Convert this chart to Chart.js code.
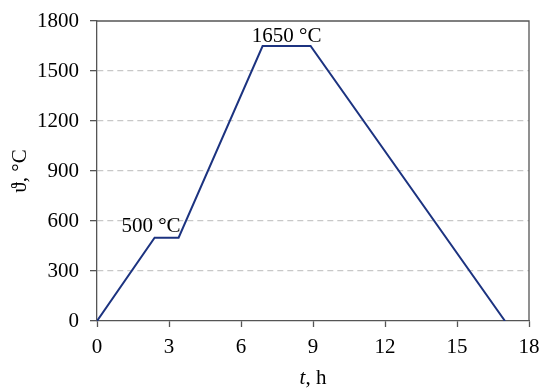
<!DOCTYPE html>
<html>
<head>
<meta charset="utf-8">
<script src="https://cdn.jsdelivr.net/npm/chart.js@4/dist/chart.umd.min.js"></script>
<style>
  html, body { margin: 0; padding: 0; background: #fff; }
  #wrap { width: 550px; height: 392px; }
</style>
</head>
<body>
<div id="wrap"><canvas id="chart"></canvas></div>
<script>
// heating schedule, time in hours / temperature in °C
const timeH = [0, 2.4, 3.4, 6.9, 8.9, 17];
const tempC = [0, 500, 500, 1650, 1650, 0];

const xTicks = [0, 3, 6, 9, 12, 15, 18];
const yTicks = [0, 300, 600, 900, 1200, 1500, 1800];

// text labels placed at data positions
const notes = [
  { text: "500 °C", x: 2.25, y: 534 },
  { text: "1650 °C", x: 7.9, y: 1672 },
];

const FONT = "'Liberation Serif', 'Times New Roman', serif";
const FS = 21;
const AXIS = "#555555";

const frame = {
  id: "frame",
  afterDraw(chart) {
    const { ctx, chartArea: a, scales } = chart;
    ctx.save();
    // box around plot
    ctx.strokeStyle = AXIS;
    ctx.lineWidth = 1.3;
    ctx.beginPath();
    ctx.moveTo(a.left, a.top);
    ctx.lineTo(a.right, a.top);
    ctx.lineTo(a.right, a.bottom);
    ctx.stroke();

    ctx.fillStyle = "#000";
    ctx.textAlign = "center";
    ctx.textBaseline = "alphabetic";
    ctx.font = FS + "px " + FONT;
    notes.forEach(n => {
      ctx.fillText(n.text, scales.x.getPixelForValue(n.x), scales.y.getPixelForValue(n.y));
    });

    // x title: italic t, upright ", h"
    const cx = (a.left + a.right) / 2;
    ctx.textAlign = "left";
    ctx.font = "italic " + FS + "px " + FONT;
    const wT = ctx.measureText("t").width;
    ctx.font = FS + "px " + FONT;
    const wRest = ctx.measureText(", h").width;
    let x0 = cx - (wT + wRest) / 2;
    ctx.font = "italic " + FS + "px " + FONT;
    ctx.fillText("t", x0, 384);
    ctx.font = FS + "px " + FONT;
    ctx.fillText(", h", x0 + wT, 384);

    // y title
    ctx.translate(26, (a.top + a.bottom) / 2);
    ctx.rotate(-Math.PI / 2);
    ctx.textAlign = "center";
    ctx.fillText("ϑ, °C", 0, 0);
    ctx.restore();
  }
};

new Chart(document.getElementById("chart"), {
  type: "line",
  data: {
    datasets: [{
      data: timeH.map((t, i) => ({ x: t, y: tempC[i] })),
      borderColor: "#1c3380",
      borderWidth: 2,
      pointRadius: 0,
      tension: 0,
      fill: false,
    }],
  },
  options: {
    responsive: true,
    maintainAspectRatio: false,
    animation: false,
    layout: { padding: { top: 21, right: 21, left: 0, bottom: 0 } },
    plugins: { legend: { display: false }, tooltip: { enabled: false } },
    scales: {
      x: {
        type: "linear",
        min: 0,
        max: 18,
        afterBuildTicks: (s) => { s.ticks = xTicks.map(v => ({ value: v })); },
        afterFit: (s) => { s.height = 71; s.paddingLeft = 0; s.paddingRight = 0; },
        grid: { drawOnChartArea: false, drawTicks: true, tickLength: 6, tickColor: AXIS, tickWidth: 1.3 },
        border: { color: AXIS, width: 1.3 },
        ticks: { color: "#000", font: { family: FONT, size: FS }, padding: 8, maxRotation: 0, callback: (v) => String(v) },
      },
      y: {
        min: 0,
        max: 1800,
        afterBuildTicks: (s) => { s.ticks = yTicks.map(v => ({ value: v })); },
        afterFit: (s) => { s.width = 97; s.paddingTop = 0; s.paddingBottom = 0; },
        grid: {
          color: (c) => (c.tick && (c.tick.value === 0 || c.tick.value === 1800)) ? "rgba(0,0,0,0)" : "#c8c8c8",
          lineWidth: 1.3,
          drawTicks: true,
          tickLength: 7,
          tickColor: AXIS,
          tickWidth: 1.3,
        },
        border: { color: AXIS, width: 1.3, dash: [6, 4] },
        ticks: { color: "#000", font: { family: FONT, size: FS }, padding: 11, callback: (v) => String(v) },
      },
    },
  },
  plugins: [frame],
});
</script>
</body>
</html>
